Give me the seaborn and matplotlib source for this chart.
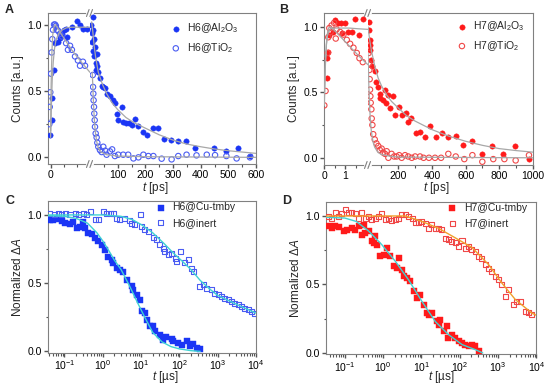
import matplotlib
matplotlib.use("Agg")
import matplotlib.pyplot as plt
from matplotlib.lines import Line2D
from matplotlib.ticker import MultipleLocator, FixedLocator
import seaborn as sns

# === Panel A: H6, short-time part (ps) ===
a_al_t1 = [-0.035, 0.04, 0.064, 0.14, 0.17, 0.28, 0.36, 0.43, 0.51, 0.59, 0.62, 0.8, 0.99, 1.12, 1.25, 1.37]
a_al_y1 = [0.17, 0.28, 0.45, 0.66, 0.86, 0.87, 0.9, 0.93, 0.96, 0.97, 0.91, 0.98, 1.03, 0.995, 0.97, 0.97]
a_ti_t1 = [-0.05, -0.035, -0.012, 0.014, 0.04, 0.064, 0.09, 0.13, 0.17, 0.2, 0.25, 0.3, 0.36, 0.43,
           0.59, 0.66, 0.74, 0.81, 0.93, 1.04, 1.12, 1.23, 1.31]
a_ti_y1 = [0.25, 0.38, 0.49, 0.63, 0.79, 0.89, 0.96, 1.0, 1.0, 0.99, 0.96, 0.95, 0.93, 0.91,
           0.86, 0.81, 0.84, 0.81, 0.76, 0.73, 0.69, 0.72, 0.69]
a_alfit_t1 = [0.0, 0.03, 0.06, 0.1, 0.15, 0.2, 0.3, 0.45, 0.6, 0.8, 1.0, 1.2, 1.5]
a_alfit_y1 = [0.15, 0.4, 0.58, 0.72, 0.82, 0.88, 0.93, 0.96, 0.975, 0.98, 0.98, 0.98, 0.98]
a_tifit_t1 = [0.0, 0.02, 0.05, 0.08, 0.12, 0.17, 0.25, 0.4, 0.6, 0.8, 1.0, 1.2, 1.5]
a_tifit_y1 = [0.2, 0.55, 0.8, 0.92, 0.98, 1.0, 0.98, 0.93, 0.87, 0.81, 0.76, 0.71, 0.64]

# === Panel A: H6, long-time part (ps) ===
a_al_t2 = [4, 6, 8, 9.8, 11, 12, 14, 15.5, 18, 20, 22, 24, 26, 30, 35, 42, 48, 54, 60, 72,
           84, 90, 96, 102, 115, 118, 130, 142, 151, 163, 175, 193, 205, 227, 247, 267, 292, 319, 347, 379,
           449, 491, 534, 578]
a_al_y2 = [1.0, 0.94, 0.87, 1.06, 0.8, 0.96, 0.76, 0.89, 0.83, 0.71, 0.66, 0.78, 0.69, 0.64, 0.6, 0.54, 0.53, 0.52, 0.48, 0.46,
           0.43, 0.41, 0.33, 0.28, 0.38, 0.27, 0.26, 0.26, 0.24, 0.29, 0.235, 0.19, 0.17, 0.22, 0.22, 0.14, 0.13, 0.12, 0.12, 0.07,
           0.07, 0.047, 0.07, 0.01]
a_ti_t2 = [10, 11, 12, 13, 14.5, 15.5, 17, 18, 20.5, 24, 26.5, 30, 36, 42, 48, 55, 60, 72, 80, 90,
           102, 120, 138, 157, 175, 193, 211, 229, 259, 295, 319, 349, 385, 422, 452, 493, 530, 578]
a_ti_y2 = [0.62, 0.53, 0.48, 0.43, 0.38, 0.33, 0.28, 0.23, 0.18, 0.15, 0.11, 0.08, 0.055, 0.04, 0.08, 0.05, 0.02, 0.045, 0.06, 0.01,
           0.02, 0.02, 0.02, -0.008, 0.0, 0.02, 0.01, 0.01, -0.01, -0.015, 0.01, 0.02, 0.015, 0.02, 0.017, 0.01, -0.008, 0.0]
a_alfit_t2 = [6, 10, 15, 20, 30, 45, 60, 80, 100, 130, 160, 200, 250, 300, 350, 400, 450, 500, 550, 600]
a_alfit_y2 = [1.02, 0.95, 0.84, 0.76, 0.64, 0.55, 0.48, 0.41, 0.36, 0.3, 0.26, 0.22, 0.17, 0.13, 0.1, 0.08, 0.063, 0.05, 0.04, 0.03]
a_tifit_t2 = [8, 10, 12, 14, 16, 18, 20, 25, 30, 40, 60, 100, 200, 600]
a_tifit_y2 = [0.64, 0.55, 0.44, 0.35, 0.28, 0.22, 0.18, 0.11, 0.07, 0.04, 0.02, 0.01, 0.005, 0.0]

# === Panel B: H7, short-time part (ps) ===
b_al_t1 = [0.11, 0.145, 0.19, 0.24, 0.40, 0.52, 0.64, 0.81, 0.84, 1.0, 1.16, 1.32, 1.48, 1.69, 1.85]
b_al_y1 = [0.61, 0.76, 0.81, 0.94, 0.96, 1.05, 1.03, 1.03, 0.95, 1.03, 0.96, 0.96, 1.06, 0.94, 1.06]
b_ti_t1 = [0.0, 0.06, 0.16, 0.19, 0.24, 0.3, 0.35, 0.47, 0.55, 0.59, 0.76, 0.92, 1.08, 1.24, 1.4, 1.56, 1.69, 1.85]
b_ti_y1 = [0.40, 0.51, 0.8, 0.92, 0.99, 0.96, 1.01, 1.03, 0.91, 0.98, 0.96, 0.94, 0.9, 0.87, 0.84, 0.8, 0.76, 0.73]
b_alfit_t1 = [0.0, 0.05, 0.1, 0.15, 0.2, 0.3, 0.4, 0.6, 0.8, 1.2, 1.6, 2.1]
b_alfit_y1 = [0.45, 0.72, 0.86, 0.93, 0.96, 0.985, 0.99, 0.99, 0.99, 0.99, 0.985, 0.98]
b_tifit_t1 = [0.0, 0.05, 0.1, 0.15, 0.2, 0.3, 0.5, 0.8, 1.1, 1.4, 1.7, 2.1]
b_tifit_y1 = [0.4, 0.7, 0.87, 0.95, 0.99, 1.0, 0.97, 0.92, 0.87, 0.82, 0.77, 0.71]

# === Panel B: H7, long-time part (ps) ===
b_al_t2 = [26, 28, 30, 32, 34, 40, 46, 60, 69, 79, 90, 93, 109, 119, 129, 139, 152, 168, 182, 204,
           224, 244, 258, 277, 303, 327, 359, 388, 422, 458, 497, 541, 586, 640, 695, 755, 824, 893, 976]
b_al_y2 = [1.04, 0.975, 0.9, 0.86, 0.82, 0.75, 0.7, 0.66, 0.58, 0.54, 0.49, 0.456, 0.44, 0.52, 0.42, 0.48, 0.38, 0.47, 0.33, 0.39,
           0.33, 0.34, 0.27, 0.30, 0.19, 0.20, 0.16, 0.24, 0.16, 0.19, 0.16, 0.17, 0.10, 0.13, 0.03, 0.09, 0.03, 0.09, -0.01]
b_ti_t2 = [24, 26, 28, 30, 32, 34, 36, 40, 42, 46, 51, 60, 70, 81, 90, 101, 110, 121, 131, 141,
           160, 175, 190, 205, 220, 240, 259, 280, 300, 329, 350, 382, 418, 454, 497, 541, 592, 640, 699, 764,
           830, 897, 976]
b_ti_y2 = [0.8, 0.72, 0.67, 0.6, 0.52, 0.47, 0.42, 0.37, 0.3, 0.25, 0.18, 0.14, 0.11, 0.09, 0.06, 0.07, 0.04, 0.03, 0.05, 0.0,
           0.03, 0.01, 0.01, 0.02, 0.0, 0.02, 0.01, 0.0, 0.01, 0.01, 0.0, 0.0, 0.0, 0.0, 0.03, 0.01, -0.01, 0.02, -0.03, -0.01,
           -0.01, -0.02, 0.02]
b_alfit_t2 = [20, 30, 40, 60, 80, 100, 130, 160, 200, 250, 300, 400, 500, 600, 700, 800, 900, 1000]
b_alfit_y2 = [1.0, 0.9, 0.82, 0.7, 0.61, 0.55, 0.48, 0.43, 0.38, 0.32, 0.28, 0.215, 0.165, 0.126, 0.095, 0.07, 0.055, 0.043]
b_tifit_t2 = [20, 25, 30, 35, 40, 50, 60, 80, 100, 150, 200, 1000]
b_tifit_y2 = [0.8, 0.55, 0.38, 0.27, 0.2, 0.12, 0.08, 0.04, 0.025, 0.012, 0.005, 0.0]

# === Panel C: H6 transient absorption (us) ===
c_cu_t = [0.042, 0.051, 0.063, 0.085, 0.104, 0.14, 0.17, 0.21, 0.255, 0.31, 0.345, 0.42, 0.51, 0.63, 0.77, 0.94,
          1.14, 1.4, 1.7, 1.9, 2.3, 2.8, 3.4, 4.2, 5.7, 6.3, 7.7, 9.4, 10.4, 12.6, 14, 17, 21, 23, 31, 38, 46,
          63, 69, 94, 114, 155, 189, 231, 282, 344]
c_cu_y = [0.963, 0.963, 0.971, 0.956, 0.939, 0.932, 0.946, 0.907, 0.915, 0.951, 0.907, 0.866, 0.859, 0.834, 0.81, 0.78,
          0.744, 0.695, 0.671, 0.646, 0.61, 0.598, 0.58, 0.524, 0.476, 0.451, 0.415, 0.378, 0.293, 0.28, 0.232, 0.183,
          0.183, 0.146, 0.122, 0.085, 0.102, 0.093, 0.073, 0.061, 0.049, 0.078, 0.037, 0.054, 0.024, 0.02]
c_in_t = [0.042, 0.055, 0.069, 0.085, 0.108, 0.14, 0.19, 0.24, 0.31, 0.38, 0.49, 0.63, 0.77, 1.03, 1.26, 1.55, 1.9,
          2.3, 2.8, 3.8, 5.1, 5.7, 6.9, 9.4, 10.4, 12.6, 15.5, 21, 25.5, 31, 38, 42, 51, 63, 77, 85, 104, 140, 171,
          208, 231, 344, 421, 513, 693, 847, 1035, 1265, 1545, 1890, 2307, 2818, 3443, 4200, 5130, 6270, 7660, 9350]
c_in_y = [1.012, 1.005, 1.012, 1.005, 1.012, 1.0, 1.012, 1.005, 1.012, 1.005, 1.024, 0.963, 0.963, 1.024, 1.012,
          1.012, 1.012, 0.971, 0.963, 0.971, 0.956, 0.939, 0.927, 1.0, 0.915, 0.89, 0.878, 0.834, 0.817, 0.78, 0.756,
          0.732, 0.707, 0.72, 0.683, 0.659, 0.732, 0.654, 0.671, 0.61, 0.585, 0.476, 0.488, 0.463, 0.451, 0.427, 0.415,
          0.402, 0.39, 0.378, 0.366, 0.354, 0.341, 0.329, 0.317, 0.305, 0.293, 0.28]
c_cufit_t = [0.035, 0.1, 0.2, 0.4, 0.7, 1, 1.5, 2, 3, 5, 8, 12, 20, 35, 60, 100, 200, 350]
c_cufit_y = [0.995, 0.99, 0.975, 0.94, 0.87, 0.81, 0.73, 0.67, 0.6, 0.48, 0.36, 0.26, 0.14, 0.07, 0.035, 0.018, 0.005, 0.0]
c_infit_t = [0.035, 1, 3, 6, 10, 20, 40, 70, 120, 200, 350, 600, 1000, 2000, 4000, 10000]
c_infit_y = [1.0, 1.0, 0.99, 0.965, 0.93, 0.87, 0.79, 0.72, 0.66, 0.6, 0.52, 0.46, 0.41, 0.37, 0.33, 0.28]

# === Panel D: H7 transient absorption (us) ===
d_cu_t = [0.038, 0.046, 0.056, 0.069, 0.093, 0.114, 0.154, 0.188, 0.23, 0.28, 0.31, 0.343, 0.42, 0.51, 0.57, 0.625,
          0.69, 0.84, 1.03, 1.26, 1.54, 1.88, 2.3, 2.54, 3.1, 3.43, 4.2, 5.1, 6.3, 7.7, 9.4, 11.4, 14, 15.5, 18.9,
          25.5, 28.2, 31, 38, 46.5, 51, 63, 77, 94, 115, 140, 171, 209, 255, 312]
d_cu_y = [0.925, 0.912, 0.925, 0.917, 0.888, 0.9, 0.912, 0.9, 0.925, 0.864, 0.937, 0.876, 0.888, 0.815, 0.803, 0.852,
          0.791, 0.706, 0.718, 0.766, 0.706, 0.633, 0.62, 0.693, 0.608, 0.56, 0.547, 0.523, 0.45, 0.401, 0.426, 0.353,
          0.292, 0.28, 0.292, 0.231, 0.207, 0.243, 0.158, 0.195, 0.109, 0.134, 0.109, 0.085, 0.073, 0.061, 0.049,
          0.061, 0.049, 0.012]
d_in_t = [0.038, 0.046, 0.056, 0.069, 0.084, 0.103, 0.126, 0.154, 0.188, 0.23, 0.28, 0.343, 0.42, 0.51, 0.625,
          0.76, 0.93, 1.14, 1.39, 1.7, 2.08, 2.54, 3.1, 3.8, 4.6, 5.7, 6.9, 8.5, 10.3, 12.6, 15.5, 18.9, 23, 28.2,
          34.5, 42, 51.5, 63, 77, 94, 115, 140, 171, 209, 255, 312, 381, 465, 568, 694, 847, 1035, 1264, 1544, 1886,
          2560, 3130, 3820, 5160, 6310, 7710]
d_in_y = [0.998, 0.985, 1.022, 0.998, 1.015, 1.046, 1.022, 1.022, 1.015, 0.985, 1.022, 0.981, 0.998, 0.973, 0.985,
          0.998, 1.015, 0.973, 0.985, 0.966, 0.973, 0.985, 1.01, 1.01, 0.998, 0.981, 0.956, 0.949, 0.961, 0.942,
          0.912, 0.937, 0.908, 0.908, 0.9, 0.839, 0.827, 0.815, 0.803, 0.779, 0.82, 0.766, 0.779, 0.754, 0.742, 0.706,
          0.693, 0.645, 0.62, 0.596, 0.56, 0.535, 0.499, 0.414, 0.462, 0.353, 0.377, 0.377, 0.304, 0.292, 0.28]
d_cufit_t = [0.033, 0.1, 0.2, 0.42, 0.93, 2.08, 4.6, 10.3, 23, 51, 115, 255, 400]
d_cufit_y = [0.99, 0.985, 0.96, 0.89, 0.79, 0.67, 0.535, 0.377, 0.23, 0.134, 0.061, 0.024, 0.0]
d_infit_t = [0.033, 1, 3.8, 10.3, 28, 77, 209, 568, 1264, 2830, 7710, 10000]
d_infit_y = [1.0, 1.0, 1.0, 0.96, 0.91, 0.84, 0.77, 0.645, 0.51, 0.39, 0.29, 0.275]

# === Style ===
BLUE = "#1a35f5"
BLUE_OPEN = "#4a5cf2"
RED = "#ff1a1a"
RED_OPEN = "#f04848"
GRAY = "#a8a8a8"
CYAN = "#3fd3d3"
ORANGE = "#f0a02c"
SPINE = "#808080"

sns.set_theme(style="ticks", context="paper")
plt.rcParams["font.family"] = ["Liberation Sans", "DejaVu Sans"]
plt.rcParams.update({
    "mathtext.fontset": "custom",
    "mathtext.rm": "Liberation Sans",
    "mathtext.it": "Liberation Sans:italic",
    "mathtext.bf": "Liberation Sans:bold",
    "axes.labelsize": 8.5,
    "xtick.labelsize": 7.5,
    "ytick.labelsize": 7.5,
    "legend.fontsize": 7.5,
    "axes.edgecolor": SPINE,
    "axes.linewidth": 0.8,
    "xtick.color": "#555555",
    "ytick.color": "#555555",
    "xtick.labelcolor": "black",
    "ytick.labelcolor": "black",
    "xtick.major.size": 3,
    "ytick.major.size": 3,
    "xtick.minor.size": 1.8,
    "ytick.minor.size": 1.8,
    "xtick.major.pad": 1.0,
    "ytick.major.pad": 1.5,
    "axes.labelpad": 2.5,
})

W, H = 546, 384
fig = plt.figure(figsize=(W / 100, H / 100), dpi=100)


def px_axes(x0, x1, y0, y1):
    return fig.add_axes([x0 / W, 1 - y1 / H, (x1 - x0) / W, (y1 - y0) / H])


def dots(ax, x, y, color, marker, filled, label=None, s=15):
    if filled:
        sns.scatterplot(x=x, y=y, ax=ax, color=color, marker=marker, s=s,
                        edgecolor=color, linewidth=0.3, label=label, zorder=3)
    else:
        sns.scatterplot(x=x, y=y, ax=ax, color=color, marker=marker, s=s,
                        facecolor="none", edgecolor=color, linewidth=0.8, label=label, zorder=3)


def fit(ax, x, y, color, lw=0.9):
    sns.lineplot(x=x, y=y, ax=ax, color=color, linewidth=lw, estimator=None,
                 sort=False, zorder=4)


def break_marks(xpx, ypx_list):
    for ypx in ypx_list:
        fig.add_artist(Line2D([(xpx - 3) / W, (xpx + 3) / W], [1 - ypx / H] * 2,
                              transform=fig.transFigure, color="white", lw=1.6))
        for dx in (-2.2, 1.2):
            fig.add_artist(Line2D([(xpx + dx - 1.3) / W, (xpx + dx + 1.3) / W],
                                  [1 - (ypx + 3.5) / H, 1 - (ypx - 3.5) / H],
                                  transform=fig.transFigure, color=SPINE, lw=0.8))


def broken_panel(xl, xb, xr, ytop, ybot, ylim, lim1, lim2):
    a1 = px_axes(xl, xb, ytop, ybot)
    a2 = px_axes(xb, xr, ytop, ybot)
    a1.spines["right"].set_visible(False)
    a2.spines["left"].set_visible(False)
    a2.tick_params(axis="y", left=False, labelleft=False)
    for a in (a1, a2):
        a.set_ylim(*ylim)
    a1.set_xlim(*lim1)
    a2.set_xlim(*lim2)
    a1.yaxis.set_major_locator(MultipleLocator(0.5))
    a1.yaxis.set_minor_locator(MultipleLocator(0.25))
    a1.set_ylabel("Counts [a.u.]")
    break_marks(xb, [ytop, ybot])
    return a1, a2


# === Panel A ===
a1, a2 = broken_panel(48, 90, 256, 13, 164, (-0.05, 1.087), (-0.1, 1.5), (0, 600))
fit(a1, a_alfit_t1, a_alfit_y1, GRAY)
fit(a1, a_tifit_t1, a_tifit_y1, GRAY)
dots(a1, a_al_t1, a_al_y1, BLUE, "o", True)
dots(a1, a_ti_t1, a_ti_y1, BLUE_OPEN, "o", False)
fit(a2, a_alfit_t2, a_alfit_y2, GRAY)
fit(a2, a_tifit_t2, a_tifit_y2, GRAY)
dots(a2, a_al_t2, a_al_y2, BLUE, "o", True, r"H6@Al$_2$O$_3$")
dots(a2, a_ti_t2, a_ti_y2, BLUE_OPEN, "o", False, r"H6@TiO$_2$")
a1.xaxis.set_major_locator(FixedLocator([0]))
a1.xaxis.set_minor_locator(FixedLocator([0.5, 1.0]))
a2.xaxis.set_major_locator(FixedLocator([100, 200, 300, 400, 500, 600]))
a2.xaxis.set_minor_locator(FixedLocator([50, 150, 250, 350, 450, 550]))
a2.legend(loc="upper right", bbox_to_anchor=(0.92, 0.97), frameon=False,
          handletextpad=0.5, labelspacing=0.55, borderaxespad=0, handlelength=1.2)
fig.text(155 / W, 1 - 188 / H, "$t$ [ps]", ha="center", va="center", fontsize=8.5)

# === Panel B ===
b1, b2 = broken_panel(324, 368, 533, 13, 165, (-0.055, 1.105), (-0.015, 2.1), (20, 1000))
fit(b1, b_alfit_t1, b_alfit_y1, GRAY)
fit(b1, b_tifit_t1, b_tifit_y1, GRAY)
dots(b1, b_al_t1, b_al_y1, RED, "o", True)
dots(b1, b_ti_t1, b_ti_y1, RED_OPEN, "o", False)
fit(b2, b_alfit_t2, b_alfit_y2, GRAY)
fit(b2, b_tifit_t2, b_tifit_y2, GRAY)
dots(b2, b_al_t2, b_al_y2, RED, "o", True, r"H7@Al$_2$O$_3$")
dots(b2, b_ti_t2, b_ti_y2, RED_OPEN, "o", False, r"H7@TiO$_2$")
b1.xaxis.set_major_locator(FixedLocator([0, 1]))
b1.xaxis.set_minor_locator(FixedLocator([0.5, 1.5]))
b2.xaxis.set_major_locator(FixedLocator([200, 400, 600, 800, 1000]))
b2.xaxis.set_minor_locator(FixedLocator([100, 300, 500, 700, 900]))
b2.legend(loc="upper right", bbox_to_anchor=(0.975, 0.985), frameon=False,
          handletextpad=0.5, labelspacing=0.55, borderaxespad=0, handlelength=1.2)
fig.text(436 / W, 1 - 188 / H, "$t$ [ps]", ha="center", va="center", fontsize=8.5)


# === Panels C and D ===
def log_panel(ax, xlim, ylim):
    ax.set_xscale("log")
    ax.set_xlim(*xlim)
    ax.set_ylim(*ylim)
    ax.yaxis.set_major_locator(MultipleLocator(0.5))
    ax.yaxis.set_minor_locator(MultipleLocator(0.25))
    ax.set_ylabel(r"Normalized $\Delta A$")


c = px_axes(48.3, 256, 201.3, 352.7)
log_panel(c, (0.038, 1e4), (-0.01, 1.1))
dots(c, c_cu_t, c_cu_y, BLUE, "s", True, "H6@Cu-tmby", s=13)
dots(c, c_in_t, c_in_y, BLUE_OPEN, "s", False, "H6@inert", s=13)
fit(c, c_cufit_t, c_cufit_y, CYAN, 1.0)
fit(c, c_infit_t, c_infit_y, CYAN, 1.0)
c.legend(loc="upper right", bbox_to_anchor=(0.92, 1.02), frameon=False,
         handletextpad=0.5, labelspacing=0.5, borderaxespad=0, handlelength=1.2)
fig.text(165 / W, 1 - 377 / H, r"$t$ [µs]", ha="center", va="center", fontsize=8.5)

d = px_axes(326.3, 536.3, 202, 354.3)
log_panel(d, (0.033, 1e4), (-0.01, 1.102))
dots(d, d_cu_t, d_cu_y, RED, "s", True, "H7@Cu-tmby", s=13)
dots(d, d_in_t, d_in_y, RED_OPEN, "s", False, "H7@inert", s=13)
fit(d, d_cufit_t, d_cufit_y, CYAN, 1.0)
fit(d, d_infit_t, d_infit_y, ORANGE, 1.0)
d.legend(loc="upper right", bbox_to_anchor=(0.975, 1.02), frameon=False,
         handletextpad=0.5, labelspacing=0.5, borderaxespad=0, handlelength=1.2)
fig.text(441 / W, 1 - 377 / H, r"$t$ [µs]", ha="center", va="center", fontsize=8.5)

# panel letters
for letter, x, y in [("A", 5, 4), ("B", 279, 4), ("C", 5, 195), ("D", 282, 195)]:
    fig.text(x / W, 1 - y / H, letter, fontsize=9, fontweight="bold", va="top", ha="left")

fig.savefig("out.png", dpi=100)
